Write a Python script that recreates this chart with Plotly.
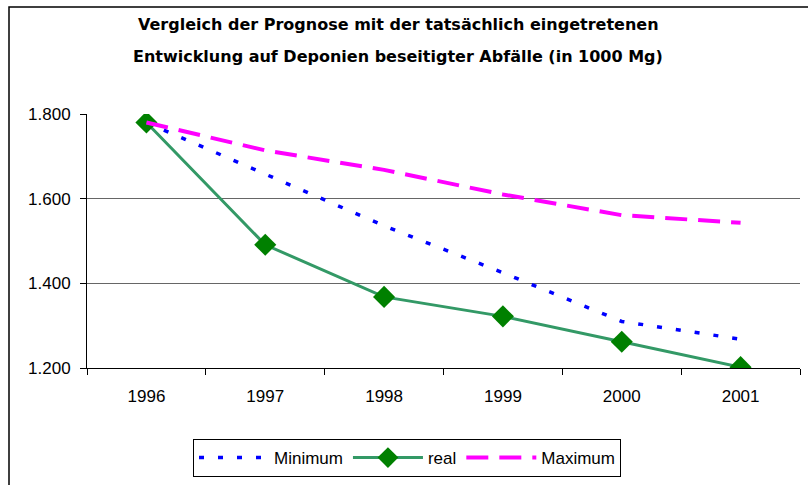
import plotly.graph_objects as go

years = ["1996", "1997", "1998", "1999", "2000", "2001"]
minimum = [1780, 1657, 1536, 1425, 1310, 1268]
real = [1780, 1491, 1368, 1322, 1262, 1202]
maximum = [1780, 1714, 1668, 1610, 1561, 1543]
title_lines = ["Vergleich der Prognose mit der tatsächlich eingetretenen",
               "Entwicklung auf Deponien beseitigter Abfälle (in 1000 Mg)"]

W, H = 808, 485
L, R, T, B = 87, 8, 114, 117
pw, ph = W - L - R, H - T - B

def px_x(x):
    return (x - L) / pw

def px_y(y):
    return (H - B - y) / ph

FONT = "Liberation Sans, Arial, sans-serif"
TFONT = "DejaVu Sans, Liberation Sans, sans-serif"

fig = go.Figure()
fig.add_trace(go.Scatter(x=years, y=minimum, name="Minimum", mode="lines",
                         line=dict(color="#0000FF", width=3.5, dash="5px,14px")))
fig.add_trace(go.Scatter(x=years, y=real, name="real", mode="lines+markers",
                         line=dict(color="#339966", width=3),
                         marker=dict(symbol="diamond", size=17, color="#008000")))
fig.add_trace(go.Scatter(x=years, y=maximum, name="Maximum", mode="lines",
                         line=dict(color="#FF00FF", width=4, dash="22px,11px")))

annotations = []
for txt, yp in zip(title_lines, [25, 57]):
    annotations.append(dict(text="<b>" + txt + "</b>", x=px_x(398), y=px_y(yp),
                            xref="paper", yref="paper", showarrow=False,
                            xanchor="center", yanchor="middle",
                            font=dict(family=TFONT, size=16, color="black")))

fig.update_layout(
    width=W, height=H,
    margin=dict(l=L, r=R, t=T, b=B),
    paper_bgcolor="white", plot_bgcolor="white",
    separators=",.",
    font=dict(family=FONT, size=17, color="black"),
    showlegend=True,
    legend=dict(orientation="h", x=px_x(193), y=px_y(439), xanchor="left", yanchor="top",
                bordercolor="black", borderwidth=1, bgcolor="white",
                font=dict(family=FONT, size=17, color="black"),
                itemwidth=70, tracegroupgap=0),
    annotations=annotations,
    shapes=[dict(type="rect", xref="paper", yref="paper",
                 x0=px_x(9), x1=px_x(830), y0=px_y(520), y1=px_y(7),
                 line=dict(color="black", width=1.5), fillcolor="rgba(0,0,0,0)", layer="below")],
    xaxis=dict(type="category", range=[-0.5, 5.5], showline=True, linecolor="black", linewidth=1,
               ticks="outside", tickson="boundaries", ticklen=6, tickcolor="black",
               showgrid=False, ticklabelstandoff=13,
               tickfont=dict(family=FONT, size=17, color="black")),
    yaxis=dict(range=[1200, 1800], tickvals=[1200, 1400, 1600, 1800], tickformat=",d",
               showline=True, linecolor="black", linewidth=1,
               ticks="outside", ticklen=6, tickcolor="black",
               showgrid=True, gridcolor="#666666", gridwidth=1, zeroline=False,
               ticklabelstandoff=6,
               tickfont=dict(family=FONT, size=17, color="black")),
)

fig.write_html("out.html", config={"displayModeBar": False},
               post_script="document.body.style.margin='0px';document.body.style.padding='0px';")
